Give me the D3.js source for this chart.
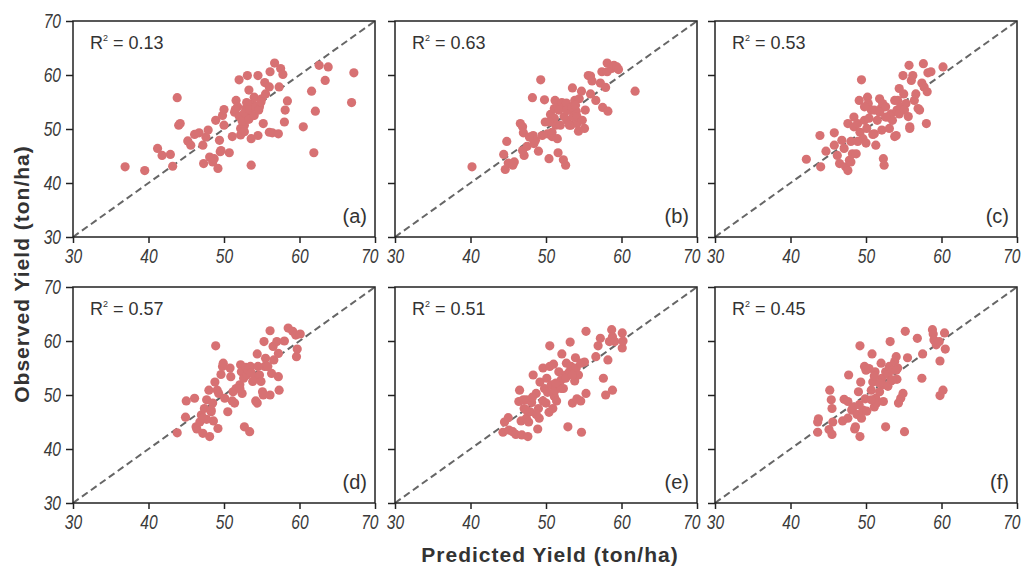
<!DOCTYPE html>
<html>
<head>
<meta charset="utf-8">
<script src="https://cdn.jsdelivr.net/npm/d3@7"></script>
<style>
  body { margin: 0; background: #fff; }
  svg { display: block; }
</style>
</head>
<body>
<script>
// panel labels, R2 values and [predicted, observed] points per panel
var panelNames = ["(a)", "(b)", "(c)", "(d)", "(e)", "(f)"];
var r2Values = ["0.13", "0.63", "0.53", "0.57", "0.51", "0.45"];
var tickValues = [30, 40, 50, 60, 70];

var pointsA = [[36.9,43.0],[39.5,42.3],[41.2,46.4],[41.8,45.1],[42.9,45.3],[43.2,43.1],[43.8,55.8],[44.0,50.7],[44.2,51.0],
  [45.2,47.8],[45.6,47.0],[46.1,49.0],[46.7,49.3],[47.2,47.0],[47.6,48.5],[47.9,49.8],[47.3,43.6],[48.1,44.8],[48.5,43.9],
  [48.7,44.5],[49.2,42.7],[49.5,45.8],[49.4,47.9],[48.9,51.6],[49.8,52.5],[50.0,53.6],[50.0,50.7],[50.7,45.6],[51.1,48.6],
  [51.4,53.1],[51.6,55.3],[51.8,54.1],[52.0,59.1],[52.2,50.1],[52.5,52.1],[52.7,50.7],[52.9,53.8],[53.1,59.9],[53.3,57.2],
  [53.6,48.2],[53.6,43.3],[53.7,52.5],[53.8,54.7],[54.0,55.9],[54.5,59.9],[54.5,48.8],[54.7,54.1],[55.0,55.6],[55.2,51.0],
  [55.4,58.6],[55.5,56.5],[56.0,57.8],[56.0,49.4],[56.1,60.6],[56.4,49.3],[56.7,62.2],[57.3,57.8],[57.2,49.1],[57.5,61.2],
  [57.8,60.1],[58.0,51.3],[58.1,53.5],[58.4,55.2],[60.5,50.4],[61.6,57.0],[61.9,45.6],[62.1,53.3],[62.6,61.8],[63.4,59.0],
  [63.8,61.5],[66.9,54.9],[67.2,60.4],[51.5,53.6],[52.0,52.4],[52.4,51.5],[52.7,53.0],[53.0,54.9],[53.3,51.8],[53.4,53.6],
  [54.0,52.5],[54.2,54.1],[54.6,53.5],[54.9,55.0],[52.2,48.9],[52.7,49.5],[49.6,46.0]];

var pointsB = [[40.2,43.0],[44.4,45.3],[44.6,42.5],[44.8,47.7],[45.0,43.7],[45.6,43.3],[45.8,43.9],[46.6,51.0],[46.9,50.4],
  [47.0,49.3],[47.1,45.1],[46.9,46.0],[47.5,46.8],[48.2,55.8],[48.3,48.8],[48.4,47.3],[48.6,47.9],[49.0,45.9],[49.3,59.1],
  [49.5,48.8],[49.8,55.4],[49.9,51.3],[50.2,49.1],[50.4,44.5],[50.6,52.7],[50.8,48.6],[51.1,53.8],[51.2,55.3],[51.3,50.7],
  [51.5,48.2],[51.6,45.6],[51.9,54.4],[52.1,54.9],[52.3,44.3],[52.4,54.1],[52.6,43.3],[52.7,54.8],[52.8,51.6],[53.0,53.5],
  [53.3,50.7],[53.5,57.6],[53.6,52.3],[53.8,55.3],[54.0,53.3],[54.1,51.0],[54.3,49.6],[54.4,55.6],[54.7,57.0],[55.1,50.1],
  [55.2,53.5],[55.6,59.9],[55.9,59.8],[55.9,56.5],[56.1,58.9],[56.6,55.3],[57.2,58.5],[57.4,60.6],[57.5,54.0],[58.1,60.6],
  [58.1,62.2],[58.2,53.3],[58.7,61.2],[59.0,61.8],[59.4,61.5],[59.6,61.0],[61.8,57.0],[57.9,57.7],[51.7,53.5],[52.4,52.3],
  [52.8,53.5],[53.4,54.1],[53.9,54.4],[51.1,52.0],[50.4,51.3],[51.9,50.7],[53.1,50.7],[54.1,52.3],[54.8,51.6],[47.8,48.5],
  [50.8,49.4]];

var pointsC = [[42.1,44.4],[43.9,48.8],[44.0,43.0],[44.7,45.9],[45.8,49.3],[45.8,47.0],[46.2,45.1],[46.5,43.6],[46.8,47.9],
  [47.1,46.4],[47.3,43.0],[47.6,51.0],[47.6,42.3],[47.8,44.2],[48.0,43.9],[48.2,45.4],[48.4,52.2],[48.4,50.4],[48.7,45.4],
  [48.9,51.0],[49.1,55.3],[49.2,49.4],[49.4,59.1],[49.6,48.2],[49.8,51.6],[50.0,47.4],[50.1,50.1],[50.2,55.9],[50.3,54.7],
  [50.7,53.5],[50.9,49.0],[51.1,49.1],[51.3,47.0],[51.5,51.6],[51.8,55.6],[52.0,53.8],[52.1,49.8],[52.2,54.7],[52.3,44.5],
  [52.4,43.3],[52.6,54.1],[52.9,52.2],[53.1,50.1],[53.3,52.8],[53.5,51.6],[53.8,48.6],[54.0,48.8],[54.1,53.5],[54.2,55.3],
  [54.4,57.5],[54.6,54.1],[54.9,59.9],[55.0,56.5],[55.3,54.7],[55.6,52.3],[55.7,61.8],[55.8,50.4],[55.8,50.1],[56.0,59.0],
  [56.2,59.9],[56.4,55.3],[56.6,56.5],[56.9,53.8],[57.1,53.5],[57.4,58.5],[57.6,62.1],[57.7,57.8],[58.0,51.0],[58.1,56.9],
  [58.2,60.4],[58.6,60.6],[60.2,61.5],[50.4,52.0],[51.1,53.5],[52.6,52.2],[53.8,55.3],[54.4,52.8],[55.1,53.5],[51.8,53.1],
  [48.9,47.7],[48.0,47.7],[49.8,54.1]];

var pointsD = [[43.8,43.0],[44.9,45.9],[45.0,48.9],[46.1,49.4],[46.3,44.1],[46.4,43.7],[46.8,45.0],[47.0,46.3],[47.2,42.9],
  [47.4,47.5],[47.7,49.1],[47.7,45.5],[48.0,50.9],[48.1,42.3],[48.3,46.9],[48.5,48.5],[48.6,45.2],[48.8,52.4],[48.9,59.1],
  [49.1,50.9],[49.2,43.8],[49.3,50.3],[49.6,53.8],[49.8,55.3],[49.9,55.9],[50.1,49.4],[50.5,46.9],[50.8,55.0],[50.9,53.4],
  [51.1,48.9],[51.4,48.5],[51.6,51.2],[52.1,51.9],[52.2,55.6],[52.3,54.3],[52.4,50.3],[52.6,53.1],[52.7,44.1],[52.9,55.1],
  [53.0,53.7],[53.2,54.6],[53.4,43.2],[53.5,55.3],[53.8,52.5],[54.1,53.1],[54.2,48.9],[54.4,57.6],[54.4,48.5],[54.7,53.7],
  [55.1,50.6],[55.2,50.0],[55.3,59.9],[55.4,55.3],[55.5,56.8],[56.1,61.9],[56.1,50.0],[56.3,54.0],[56.5,59.0],[56.6,56.5],
  [57.0,59.9],[57.2,57.7],[57.2,53.4],[57.3,50.9],[58.0,60.0],[58.5,62.4],[59.1,61.8],[59.5,61.1],[59.6,57.1],[59.7,58.5],
  [60.1,61.3],[53.6,54.1],[54.5,55.3],[51.2,50.6],[52.1,51.2],[48.3,47.2],[47.2,45.7],[55.8,55.3],[54.9,52.5]];

var pointsE = [[44.3,43.1],[44.5,45.0],[45.0,45.8],[45.1,43.5],[45.6,43.2],[46.0,42.7],[46.4,48.8],[46.5,50.9],[46.7,45.2],
  [46.8,42.6],[47.0,49.1],[47.1,47.5],[47.4,49.1],[47.4,45.7],[47.6,42.3],[47.7,45.0],[47.9,46.9],[48.1,48.6],[48.3,53.7],
  [48.7,50.3],[48.9,43.7],[49.0,47.5],[49.1,45.7],[49.2,52.4],[49.6,55.0],[49.6,48.9],[49.8,51.2],[50.0,48.5],[50.1,53.1],
  [50.2,50.5],[50.4,46.8],[50.5,59.1],[50.5,55.3],[50.7,51.9],[50.9,47.5],[51.0,55.7],[51.1,49.7],[51.2,50.9],[51.4,48.9],
  [51.7,54.3],[52.0,52.8],[52.1,57.6],[52.3,51.2],[52.6,53.7],[52.7,55.9],[52.9,44.1],[53.1,54.3],[53.2,59.8],[53.3,55.3],
  [53.5,48.5],[53.8,52.6],[53.9,56.9],[54.0,55.0],[54.1,49.3],[54.3,53.7],[54.6,48.9],[54.7,43.1],[55.1,56.1],[55.3,61.8],
  [55.3,50.3],[56.6,57.1],[56.9,59.1],[57.2,60.5],[57.6,53.1],[57.9,50.0],[58.2,56.5],[58.4,59.9],[58.7,62.1],[58.8,50.9],
  [58.8,60.8],[59.1,59.9],[60.1,61.5],[60.1,58.7],[60.2,60.0],[52.6,53.1],[53.5,53.7],[52.0,51.2],[51.3,52.2],[48.2,49.6],
  [47.4,47.2],[54.6,55.9],[48.7,46.4]];

var pointsF = [[43.6,43.1],[43.6,45.0],[43.7,45.6],[45.1,43.6],[45.2,50.9],[45.4,49.1],[45.5,47.5],[45.6,45.0],[45.5,42.7],
  [46.9,45.2],[47.1,49.2],[47.6,48.8],[47.6,45.7],[47.7,53.7],[48.1,47.2],[48.3,47.8],[48.5,43.7],[48.6,44.1],[48.8,46.4],
  [49.0,50.6],[49.2,42.3],[49.2,59.1],[49.3,52.4],[49.4,45.7],[49.6,47.2],[49.8,55.3],[49.9,49.3],[50.0,54.6],[50.1,47.0],
  [50.4,54.9],[50.7,50.9],[50.8,57.6],[50.9,52.4],[51.1,47.8],[51.2,54.3],[51.3,49.4],[51.4,48.5],[51.8,50.6],[52.0,55.9],
  [52.1,53.1],[52.2,51.9],[52.3,48.8],[52.6,44.1],[52.6,54.3],[52.9,53.8],[53.1,55.3],[53.2,59.9],[53.3,52.6],[53.5,54.6],
  [53.8,56.2],[54.0,57.1],[54.1,52.9],[54.2,55.0],[54.3,48.5],[54.6,49.4],[54.9,50.3],[55.1,43.2],[55.2,61.8],[55.5,56.9],
  [56.8,60.5],[57.4,53.1],[57.5,57.6],[58.8,62.1],[58.9,61.3],[59.0,60.2],[59.3,59.3],[59.7,59.9],[59.8,56.3],[59.8,49.9],
  [60.2,50.9],[60.4,61.5],[60.5,58.5],[51.8,52.2],[52.9,51.6],[53.5,52.8],[49.1,48.2],[50.7,49.1],[54.0,54.6],[51.1,53.5]];

var panelPoints = [pointsA, pointsB, pointsC, pointsD, pointsE, pointsF];

// opmaak
var colLeft = [73, 395, 715];
var rowTop = [21, 287];
var pw = 302, ph = 216;
var dotColor = "#d77173";
var narrow = 0.78; // smalle cursieve tick labels

var svg = d3.select("body").append("svg")
    .attr("width", 1024)
    .attr("height", 566)
    .style("font-family", "'Liberation Sans', Arial, sans-serif");

var x = d3.scaleLinear().domain([30, 70]).range([0, pw]);
var y = d3.scaleLinear().domain([30, 70]).range([ph, 0]);

panelPoints.forEach(function(pts, i) {
    var col = i % 3, row = Math.floor(i / 3);
    var g = svg.append("g")
        .attr("transform", "translate(" + colLeft[col] + "," + rowTop[row] + ")");

    // assen met tick marks naar buiten
    var xAxis = d3.axisBottom(x).tickValues(tickValues).tickSize(6).tickSizeOuter(0);
    var yAxis = d3.axisLeft(y).tickValues(tickValues).tickSize(7).tickSizeOuter(0);

    var gx = g.append("g")
        .attr("class", "x axis")
        .attr("transform", "translate(0," + ph + ")")
        .call(xAxis);
    var gy = g.append("g")
        .attr("class", "y axis")
        .call(yAxis);

    [gx, gy].forEach(function(a) {
        a.select(".domain").remove();
        a.selectAll("line").attr("stroke", "#222").attr("stroke-width", 1.5);
        a.selectAll("text")
            .style("font-style", "italic")
            .style("font-size", "20px")
            .attr("fill", "#3a3a3a");
    });
    gx.selectAll("text")
        .attr("y", 7)
        .attr("dy", "0.95em")
        .attr("transform", "scale(" + narrow + ",1)");
    // laatste label (70) schuift iets naar links, zoals in het origineel
    gx.selectAll("text")
        .filter(function(d) { return d === 70; })
        .attr("text-anchor", "end")
        .attr("x", 3 / narrow);
    if (col === 0) {
        gy.selectAll("text")
            .attr("x", -12 / narrow)
            .attr("transform", "scale(" + narrow + ",1)");
    } else {
        gy.selectAll("text").remove();
    }

    // 1:1 lijn
    g.append("line")
        .attr("x1", x(30)).attr("y1", y(30))
        .attr("x2", x(70)).attr("y2", y(70))
        .attr("stroke", "#666")
        .attr("stroke-width", 2)
        .attr("stroke-dasharray", "7,4");

    g.selectAll(".dot")
        .data(pts)
        .enter().append("circle")
        .attr("class", "dot")
        .attr("cx", function(d) { return x(d[0]); })
        .attr("cy", function(d) { return y(d[1]); })
        .attr("r", 4.6)
        .attr("fill", dotColor);

    // kader
    g.append("rect")
        .attr("width", pw).attr("height", ph)
        .attr("fill", "none")
        .attr("stroke", "#222")
        .attr("stroke-width", 1.5);

    var r2 = g.append("text")
        .attr("x", 17).attr("y", 28)
        .attr("fill", "#333")
        .style("font-size", "18px");
    r2.append("tspan").text("R");
    r2.append("tspan").attr("dy", -8).style("font-size", "9px").text("2");
    r2.append("tspan").attr("dy", 8).text(" = " + r2Values[i]);

    g.append("text")
        .attr("x", pw - 8).attr("y", ph - 14)
        .attr("text-anchor", "end")
        .attr("fill", "#333")
        .style("font-size", "20px")
        .text(panelNames[i]);
});

svg.append("text")
    .attr("transform", "translate(29,274) rotate(-90)")
    .attr("text-anchor", "middle")
    .attr("fill", "#333")
    .style("font-weight", "bold")
    .style("font-size", "21px")
    .style("letter-spacing", "1px")
    .text("Observed Yield (ton/ha)");

svg.append("text")
    .attr("x", 550).attr("y", 562)
    .attr("text-anchor", "middle")
    .attr("fill", "#333")
    .style("font-weight", "bold")
    .style("font-size", "21px")
    .style("letter-spacing", "1px")
    .text("Predicted Yield (ton/ha)");
</script>
</body>
</html>
